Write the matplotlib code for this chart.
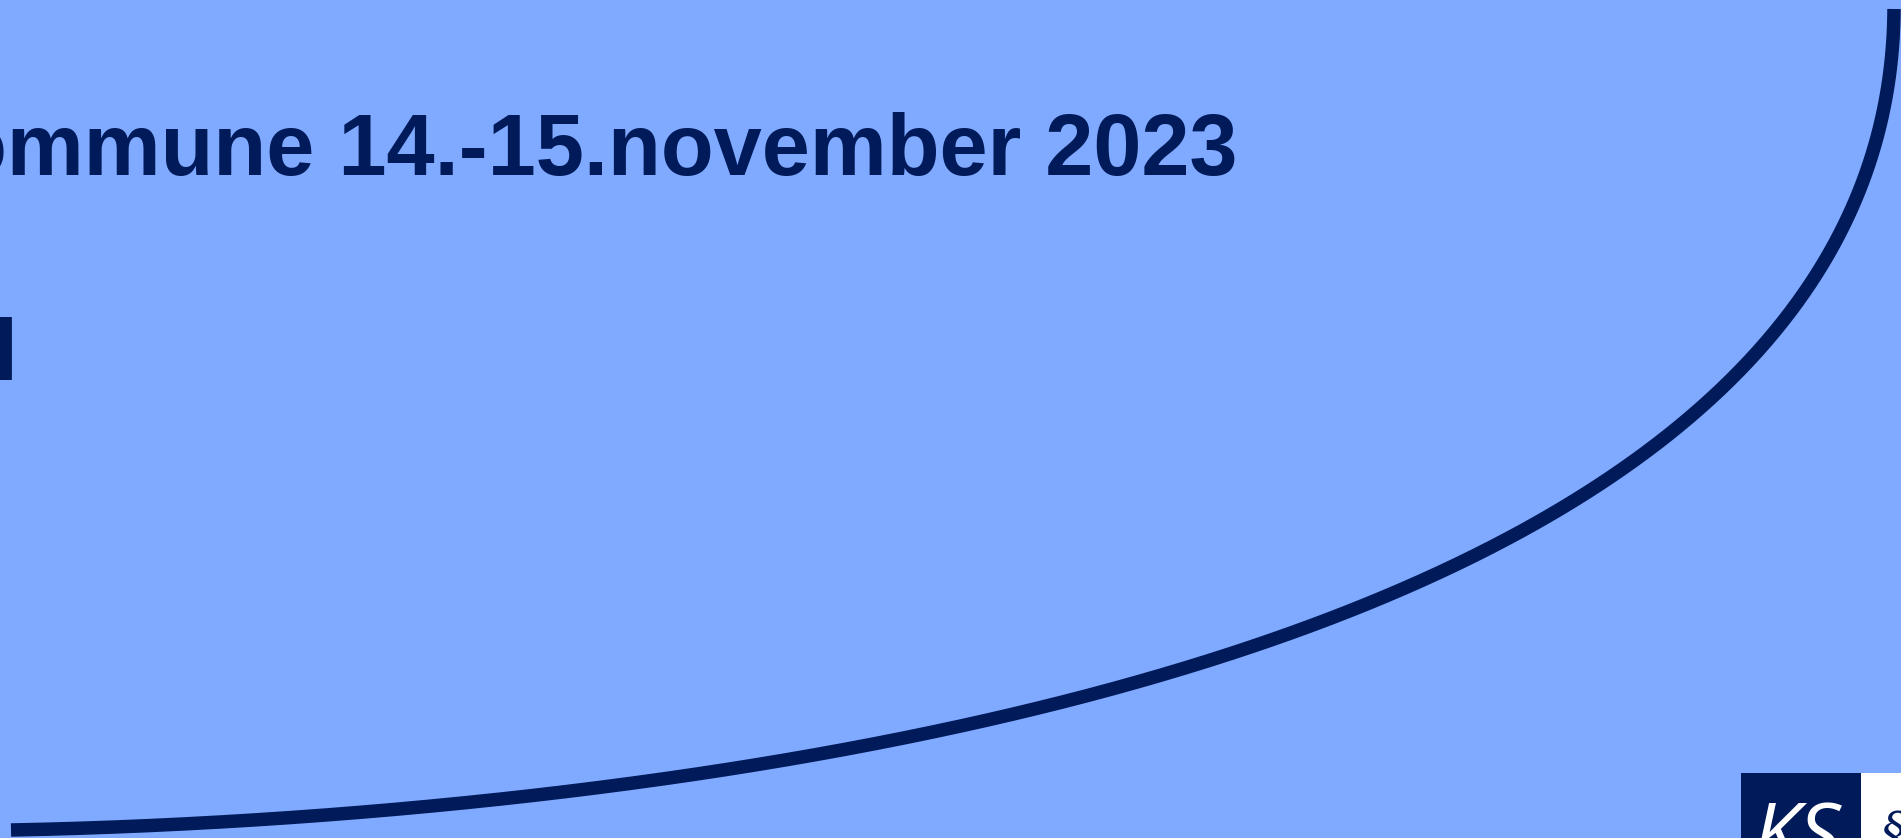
import numpy as np
import matplotlib
matplotlib.use("Agg")
import matplotlib.pyplot as plt
from matplotlib.patches import Rectangle

W, H = 1901, 838
BG = "#80AAFF"
NAVY = "#001A5A"

# Text content
title_line1 = "kommune 14.-15.november 2023"
title_line2 = "l"
logo_text = "KS"

# Points (pixel coordinates, y down)
curve_x = [11, 200, 500, 560, 1000, 1060, 1460, 1710, 1826, 1860, 1887, 1894]
curve_y = [830, 823, 800, 792, 717, 702, 563, 399, 260, 186, 100, 9]


def bezier(P0, P1, P2, P3, t):
    t = np.asarray(t)[:, None]
    return ((1 - t) ** 3) * P0 + 3 * ((1 - t) ** 2) * t * P1 + 3 * (1 - t) * t ** 2 * P2 + t ** 3 * P3


def fit_bezier(xs, ys):
    pts = np.column_stack([xs, ys]).astype(float)
    P0, P3 = pts[0], pts[-1]
    d = np.r_[0, np.cumsum(np.hypot(np.diff(pts[:, 0]), np.diff(pts[:, 1])))]
    t = d / d[-1]
    ts = np.linspace(0, 1, 4001)
    for _ in range(60):
        b0 = (1 - t) ** 3
        b1 = 3 * (1 - t) ** 2 * t
        b2 = 3 * (1 - t) * t ** 2
        b3 = t ** 3
        A = np.column_stack([b1, b2])
        R = pts - np.outer(b0, P0) - np.outer(b3, P3)
        sol = np.linalg.lstsq(A, R, rcond=None)[0]
        P1, P2 = sol
        c = bezier(P0, P1, P2, P3, ts)
        for i in range(1, len(pts) - 1):
            t[i] = ts[np.argmin(np.hypot(c[:, 0] - pts[i, 0], c[:, 1] - pts[i, 1]))]
    return P0, P1, P2, P3


fig = plt.figure(figsize=(W / 100, H / 100), dpi=100)
fig.patch.set_facecolor(BG)
ax = fig.add_axes([0, 0, 1, 1])
ax.set_xlim(0, W)
ax.set_ylim(H, 0)
ax.set_facecolor(BG)
ax.axis("off")

P0, P1, P2, P3 = fit_bezier(curve_x, curve_y)
c = bezier(P0, P1, P2, P3, np.linspace(0, 1, 600))
ax.plot(c[:, 0], c[:, 1], color=NAVY, lw=9.7, solid_capstyle="butt", clip_on=False)

ax.text(1237, 175.5, title_line1, ha="right", va="baseline", fontsize=62.3,
        fontweight="bold", family="Liberation Sans", color=NAVY, clip_on=False)
ax.text(-6, 380, title_line2, ha="left", va="baseline", fontsize=62.3,
        fontweight="bold", family="Liberation Sans", color=NAVY, clip_on=False)

# Logo
ax.add_patch(Rectangle((1741, 773), 120, 80, facecolor=NAVY, edgecolor="none", zorder=3))
ax.add_patch(Rectangle((1861, 773), 50, 80, facecolor="white", edgecolor="none", zorder=3))
ax.text(1752, 862, logo_text, ha="left", va="baseline", fontsize=60, style="italic",
        fontweight="normal", family="Open Sans", color="white", zorder=4)
ax.text(1882, 845, "\u00a7", ha="left", va="baseline", fontsize=34, style="italic",
        family="DejaVu Serif", color=NAVY, zorder=4)

fig.savefig("out.png", dpi=100, facecolor=BG)
